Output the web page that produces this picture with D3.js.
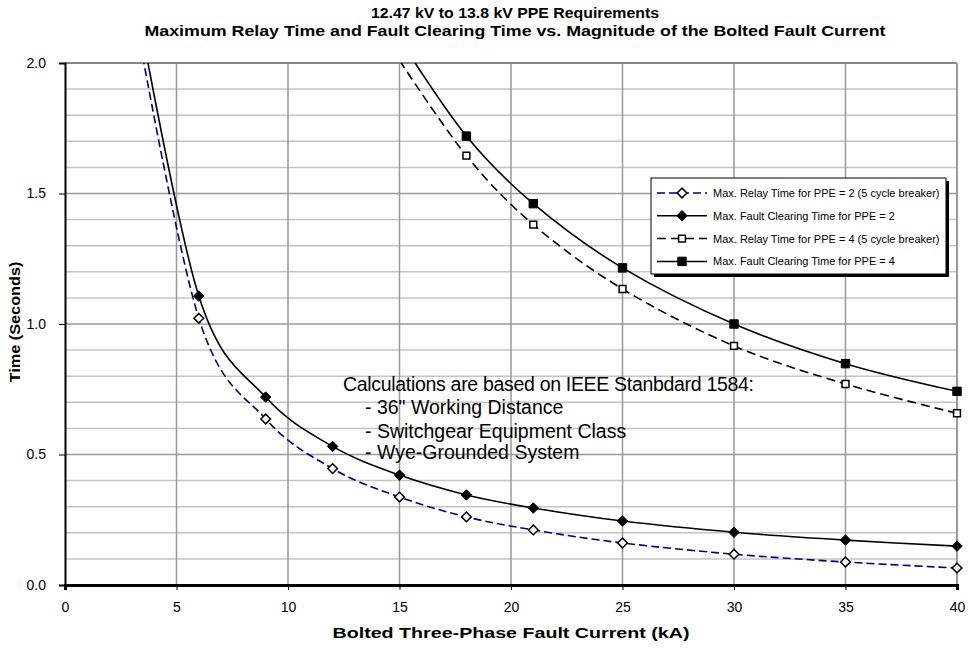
<!DOCTYPE html>
<html><head><meta charset="utf-8">
<script src="https://cdnjs.cloudflare.com/ajax/libs/d3/7.8.5/d3.min.js"></script>
<style>
body{margin:0;background:#fff;}
svg{font-family:"Liberation Sans",Arial,sans-serif;}
</style></head>
<body><svg id="c" width="969" height="649"></svg>
<script>
const titleLines = ["12.47 kV to 13.8 kV PPE Requirements","Maximum Relay Time and Fault Clearing Time vs. Magnitude of the Bolted Fault Current"];
const xTicks = [0,5,10,15,20,25,30,35,40];
const yTicks = [0,0.5,1,1.5,2];
const currentPPE2 = [3,6,9,12,15,18,21,25,30,35,40];
const relayPPE2 = [2.25,1.022,0.636,0.446,0.337,0.261,0.211,0.161,0.118,0.088,0.065];
const faultPPE2 = [2.333,1.107,0.72,0.531,0.421,0.345,0.295,0.245,0.202,0.172,0.149];
const currentPPE4 = [15,18,21,25,30,35,40];
const relayPPE4 = [2.01,1.645,1.381,1.134,0.916,0.77,0.658];
const faultPPE4 = [2.093,1.72,1.461,1.215,1.0,0.848,0.742];
const seriesNames = ["Max. Relay Time for PPE = 2 (5 cycle breaker)","Max. Fault Clearing Time for PPE = 2","Max. Relay Time for PPE = 4 (5 cycle breaker)","Max. Fault Clearing Time for PPE = 4"];
const noteLines = ["Calculations are based on IEEE Stanbdard 1584:","- 36\" Working Distance","- Switchgear Equipment Class","- Wye-Grounded System"];

const series = [
  {name:seriesNames[0], xs:currentPPE2, ys:relayPPE2, color:"#000080", dash:"8,4", marker:"diamond", fill:"#fff"},
  {name:seriesNames[1], xs:currentPPE2, ys:faultPPE2, color:"#000", dash:null, marker:"diamond", fill:"#000"},
  {name:seriesNames[2], xs:currentPPE4, ys:relayPPE4, color:"#000", dash:"9,5", marker:"square", fill:"#fff"},
  {name:seriesNames[3], xs:currentPPE4, ys:faultPPE4, color:"#000", dash:null, marker:"square", fill:"#000"}
];

const svg = d3.select("#c");
const L=65,R=957,T=63,B=585;
const x = d3.scaleLinear().domain([0,40]).range([L,R]);
const y = d3.scaleLinear().domain([0,2]).range([B,T]);

// grid
const minor = d3.range(1,20).map(i=>i/10).filter(v=>Math.round(v*10)%5!==0);
svg.append("g").selectAll("line").data(minor).join("line")
  .attr("x1",L).attr("x2",R).attr("y1",d=>y(d)).attr("y2",d=>y(d))
  .attr("stroke","#c4c4c4").attr("stroke-width",1.5);
svg.append("g").selectAll("line").data([0.5,1,1.5]).join("line")
  .attr("x1",L).attr("x2",R).attr("y1",d=>y(d)).attr("y2",d=>y(d))
  .attr("stroke","#999").attr("stroke-width",1.5);
svg.append("g").selectAll("line").data(xTicks.slice(1,-1)).join("line")
  .attr("x1",d=>x(d)).attr("x2",d=>x(d)).attr("y1",T).attr("y2",B)
  .attr("stroke","#999").attr("stroke-width",1.5);
svg.append("line").attr("x1",L).attr("x2",R).attr("y1",T).attr("y2",T).attr("stroke","#888").attr("stroke-width",2);
svg.append("line").attr("x1",R).attr("x2",R).attr("y1",T).attr("y2",B).attr("stroke","#999").attr("stroke-width",2);

// axes
const yAxis = svg.append("g").attr("transform",`translate(${L},0)`)
  .call(d3.axisLeft(y).tickValues(yTicks).tickFormat(d3.format(".1f")).tickSize(6).tickPadding(13));
yAxis.select(".domain").attr("stroke","#000").attr("stroke-width",2);
yAxis.selectAll("text").attr("font-size",14).attr("fill","#000");
const xAxis = svg.append("g").attr("transform",`translate(0,${B})`)
  .call(d3.axisBottom(x).tickValues(xTicks).tickSize(5).tickPadding(12));
xAxis.select(".domain").attr("stroke","#000").attr("stroke-width",3);
xAxis.selectAll("text").attr("font-size",14).attr("fill","#000");

svg.append("clipPath").attr("id","pc").append("rect").attr("x",L).attr("y",T).attr("width",R-L).attr("height",B-T);

const line = d3.line().x(d=>x(d[0])).y(d=>y(d[1])).curve(d3.curveCardinal.tension(0));
const sym = {diamond:d3.symbol().type(d3.symbolDiamond2).size(60), square:d3.symbol().type(d3.symbolSquare2).size(60)};
const symFilled = {diamond:d3.symbol().type(d3.symbolDiamond2).size(70), square:d3.symbol().type(d3.symbolSquare2).size(90)};

const plot = svg.append("g").attr("clip-path","url(#pc)");
series.forEach(s=>{
  const pts = s.xs.map((v,i)=>[v,s.ys[i]]);
  plot.append("path").attr("d",line(pts)).attr("fill","none")
    .attr("stroke",s.color).attr("stroke-width",1.6)
    .attr("stroke-dasharray",s.dash);
});
series.forEach(s=>{
  const pts = s.xs.map((v,i)=>[v,s.ys[i]]).filter(p=>p[1]<=2);
  svg.append("g").selectAll("path").data(pts).join("path")
    .attr("transform",p=>`translate(${x(p[0])},${y(p[1])})`)
    .attr("d",(s.fill==="#000"?symFilled:sym)[s.marker]())
    .attr("fill",s.fill).attr("stroke","#000").attr("stroke-width",s.fill==="#000"?1:1.5);
});

// legend
const lg = svg.append("g").attr("transform","translate(651,178)");
lg.append("rect").attr("x",3).attr("y",3).attr("width",295).attr("height",96).attr("fill","#000");
lg.append("rect").attr("x",0).attr("y",0).attr("width",295).attr("height",96).attr("fill","#fff").attr("stroke","#000").attr("stroke-width",1);
series.forEach((s,i)=>{
  const yy = 15 + i*22.8;
  lg.append("line").attr("x1",6).attr("x2",56).attr("y1",yy).attr("y2",yy)
    .attr("stroke",s.color).attr("stroke-width",1.5).attr("stroke-dasharray",s.dash);
  lg.append("path").attr("transform",`translate(31,${yy})`)
    .attr("d",(s.fill==="#000"?symFilled:sym)[s.marker]())
    .attr("fill",s.fill).attr("stroke","#000").attr("stroke-width",s.fill==="#000"?1:1.5);
  lg.append("text").attr("x",62).attr("y",yy+4).attr("font-size",11).text(s.name);
});

// titles
const titleLen = [288,741];
svg.append("g").selectAll("text").data(titleLines).join("text")
  .attr("x",515).attr("y",(d,i)=>18+i*18).attr("text-anchor","middle")
  .attr("font-size",14.5).attr("font-weight","bold")
  .attr("textLength",(d,i)=>titleLen[i]).attr("lengthAdjust","spacingAndGlyphs").text(d=>d);
svg.append("text").attr("x",511).attr("y",638).attr("text-anchor","middle")
  .attr("font-size",14).attr("font-weight","bold")
  .attr("textLength",357).attr("lengthAdjust","spacingAndGlyphs")
  .text("Bolted Three-Phase Fault Current (kA)");
svg.append("text").attr("transform","translate(20,322) rotate(-90)").attr("text-anchor","middle")
  .attr("font-size",14).attr("font-weight","bold")
  .attr("textLength",121).attr("lengthAdjust","spacingAndGlyphs")
  .text("Time (Seconds)");

// annotation
svg.append("g").selectAll("text").data(noteLines).join("text")
  .attr("x",(d,i)=>i===0?343:365).attr("y",(d,i)=>[391,414,438,459][i])
  .attr("font-size",19.5).attr("fill","#000")
  .attr("textLength",(d,i)=>i===0?411:null).attr("lengthAdjust","spacing")
  .text(d=>d);
</script></body></html>
